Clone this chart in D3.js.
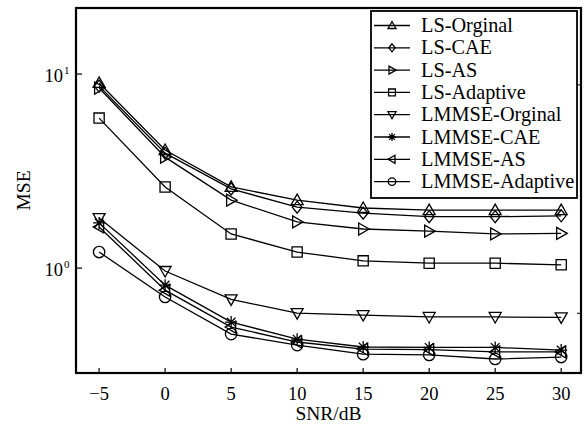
<!DOCTYPE html>
<html>
<head>
<meta charset="utf-8">
<script src="https://cdn.jsdelivr.net/npm/d3@7"></script>
<style>
  body { margin: 0; background: white; }
  text { font-family: "Liberation Serif", "Times New Roman", serif; fill: #000; }
</style>
</head>
<body>
<div id="chart"></div>
<script>
let width = 586
let height = 428

// data
let snr = [-5, 0, 5, 10, 15, 20, 25, 30]
let names = ["LS-Orginal", "LS-CAE", "LS-AS", "LS-Adaptive", "LMMSE-Orginal", "LMMSE-CAE", "LMMSE-AS", "LMMSE-Adaptive"]
let markers = ["triUp", "diamond", "triRight", "square", "triDown", "star", "triLeft", "circle"]
let lsOrginal = [9.0, 4.06, 2.62, 2.24, 2.04, 1.99, 1.99, 1.99]
let lsCAE = [8.67, 3.91, 2.56, 2.06, 1.92, 1.84, 1.84, 1.86]
let lsAS = [8.47, 3.73, 2.24, 1.73, 1.59, 1.55, 1.50, 1.51]
let lsAdaptive = [5.93, 2.62, 1.50, 1.21, 1.09, 1.06, 1.06, 1.04]
let lmmseOrginal = [1.81, 0.966, 0.69, 0.586, 0.573, 0.56, 0.56, 0.557]
let lmmseCAE = [1.71, 0.817, 0.527, 0.43, 0.392, 0.39, 0.39, 0.378]
let lmmseAS = [1.63, 0.77, 0.497, 0.416, 0.382, 0.38, 0.37, 0.37]
let lmmseAdaptive = [1.21, 0.71, 0.457, 0.401, 0.36, 0.357, 0.34, 0.348]
let seriesValues = [lsOrginal, lsCAE, lsAS, lsAdaptive, lmmseOrginal, lmmseCAE, lmmseAS, lmmseAdaptive]

let xTicks = [-5, 0, 5, 10, 15, 20, 25, 30]
let yTicks = [10, 1]
let yTickExp = ["1", "0"]
let rightTicks = [8.8, 0.585]

let pLeft = 76, pRight = 581, pTop = 8, pBottom = 373

let svg = d3.select("#chart")
    .append("svg")
    .attr("width", width)
    .attr("height", height)

let x = d3.scaleLinear()
    .domain([-6.75, 31.5])
    .range([pLeft, pRight])

let y = d3.scaleLog()
    .domain([0.288, 21.9])
    .range([pBottom, pTop])

// 標記形狀
function markerPath(type, s) {
    let h = s / 2
    switch (type) {
        case "triUp": return `M0,${-h}L${h},${h * 0.75}L${-h},${h * 0.75}Z`
        case "triDown": return `M0,${h}L${h},${-h * 0.75}L${-h},${-h * 0.75}Z`
        case "triRight": return `M${h},0L${-h * 0.75},${h}L${-h * 0.75},${-h}Z`
        case "triLeft": return `M${-h},0L${h * 0.75},${h}L${h * 0.75},${-h}Z`
        case "diamond": return `M0,${-h}L${h * 0.8},0L0,${h}L${-h * 0.8},0Z`
        case "square": { let q = h * 0.85; return `M${-q},${-q}H${q}V${q}H${-q}Z` }
        case "circle": { let r = h * 0.95; return `M${r},0A${r},${r} 0 1,1 ${-r},0A${r},${r} 0 1,1 ${r},0Z` }
        case "star": {
            let d = h * 0.72
            return `M0,${-h}V${h}M${-h},0H${h}M${-d},${-d}L${d},${d}M${-d},${d}L${d},${-d}`
        }
    }
}

let line = d3.line()
    .x((d, i) => x(snr[i]))
    .y(d => y(d))

let plot = svg.append("g")

plot.selectAll("path.series")
    .data(seriesValues)
    .join("path")
    .attr("class", "series")
    .attr("d", d => line(d))
    .attr("fill", "none")
    .attr("stroke", "#000")
    .attr("stroke-width", 1.3)

seriesValues.forEach((vals, k) => {
    plot.append("g")
        .selectAll("path")
        .data(vals)
        .join("path")
        .attr("transform", (d, i) => `translate(${x(snr[i])},${y(d)})`)
        .attr("d", markerPath(markers[k], 12))
        .attr("fill", "none")
        .attr("stroke", "#000")
        .attr("stroke-width", 1.3)
})

// 座標軸
svg.append("rect")
    .attr("x", pLeft)
    .attr("y", pTop)
    .attr("width", pRight - pLeft)
    .attr("height", pBottom - pTop)
    .attr("fill", "none")
    .attr("stroke", "#000")
    .attr("stroke-width", 2.2)

svg.append("g")
    .selectAll("line")
    .data(xTicks)
    .join("line")
    .attr("x1", d => x(d)).attr("x2", d => x(d))
    .attr("y1", pBottom).attr("y2", pBottom - 5)
    .attr("stroke", "#000").attr("stroke-width", 1.2)

svg.append("g")
    .selectAll("text")
    .data(xTicks)
    .join("text")
    .attr("x", d => x(d))
    .attr("y", 400)
    .attr("text-anchor", "middle")
    .attr("font-size", 18.5)
    .text(d => d < 0 ? "\u2212" + Math.abs(d) : d)

svg.append("g")
    .selectAll("line")
    .data(yTicks)
    .join("line")
    .attr("x1", pLeft).attr("x2", pLeft + 6)
    .attr("y1", d => y(d)).attr("y2", d => y(d))
    .attr("stroke", "#000").attr("stroke-width", 1.2)

svg.append("g")
    .selectAll("line")
    .data(rightTicks)
    .join("line")
    .attr("x1", pRight).attr("x2", pRight - 4)
    .attr("y1", d => y(d)).attr("y2", d => y(d))
    .attr("stroke", "#000").attr("stroke-width", 1)

let yLabels = svg.append("g")
    .selectAll("text")
    .data(yTicks)
    .join("text")
    .attr("x", 63)
    .attr("y", d => y(d) + 8)
    .attr("text-anchor", "end")
    .attr("font-size", 18.5)
    .text("10")
yLabels.each(function (d, i) {
    svg.append("text")
        .attr("x", 64)
        .attr("y", y(d) + 0)
        .attr("font-size", 11)
        .text(yTickExp[i])
})

svg.append("text")
    .attr("x", (pLeft + pRight) / 2)
    .attr("y", 420)
    .attr("text-anchor", "middle")
    .attr("font-size", 19.5)
    .text("SNR/dB")

svg.append("text")
    .attr("transform", `translate(30,${(pTop + pBottom) / 2}) rotate(-90)`)
    .attr("text-anchor", "middle")
    .attr("font-size", 19.5)
    .text("MSE")

// 圖例
let legend = svg.append("g")
legend.append("rect")
    .attr("x", 371).attr("y", 11)
    .attr("width", 206).attr("height", 187)
    .attr("fill", "white")
    .attr("stroke", "#000")
    .attr("stroke-width", 1.8)

let rows = legend.selectAll("g.row")
    .data(names)
    .join("g")
    .attr("class", "row")
    .attr("transform", (d, i) => `translate(0,${25.5 + i * 22.3})`)

rows.append("line")
    .attr("x1", 374).attr("x2", 410)
    .attr("stroke", "#000").attr("stroke-width", 1.3)
rows.append("path")
    .attr("transform", "translate(392,0)")
    .attr("d", (d, i) => markerPath(markers[i], 8))
    .attr("fill", "none")
    .attr("stroke", "#000")
    .attr("stroke-width", 1.3)
rows.append("text")
    .attr("x", 421)
    .attr("y", 6.5)
    .attr("font-size", 20.3)
    .text(d => d)
</script>
</body>
</html>
